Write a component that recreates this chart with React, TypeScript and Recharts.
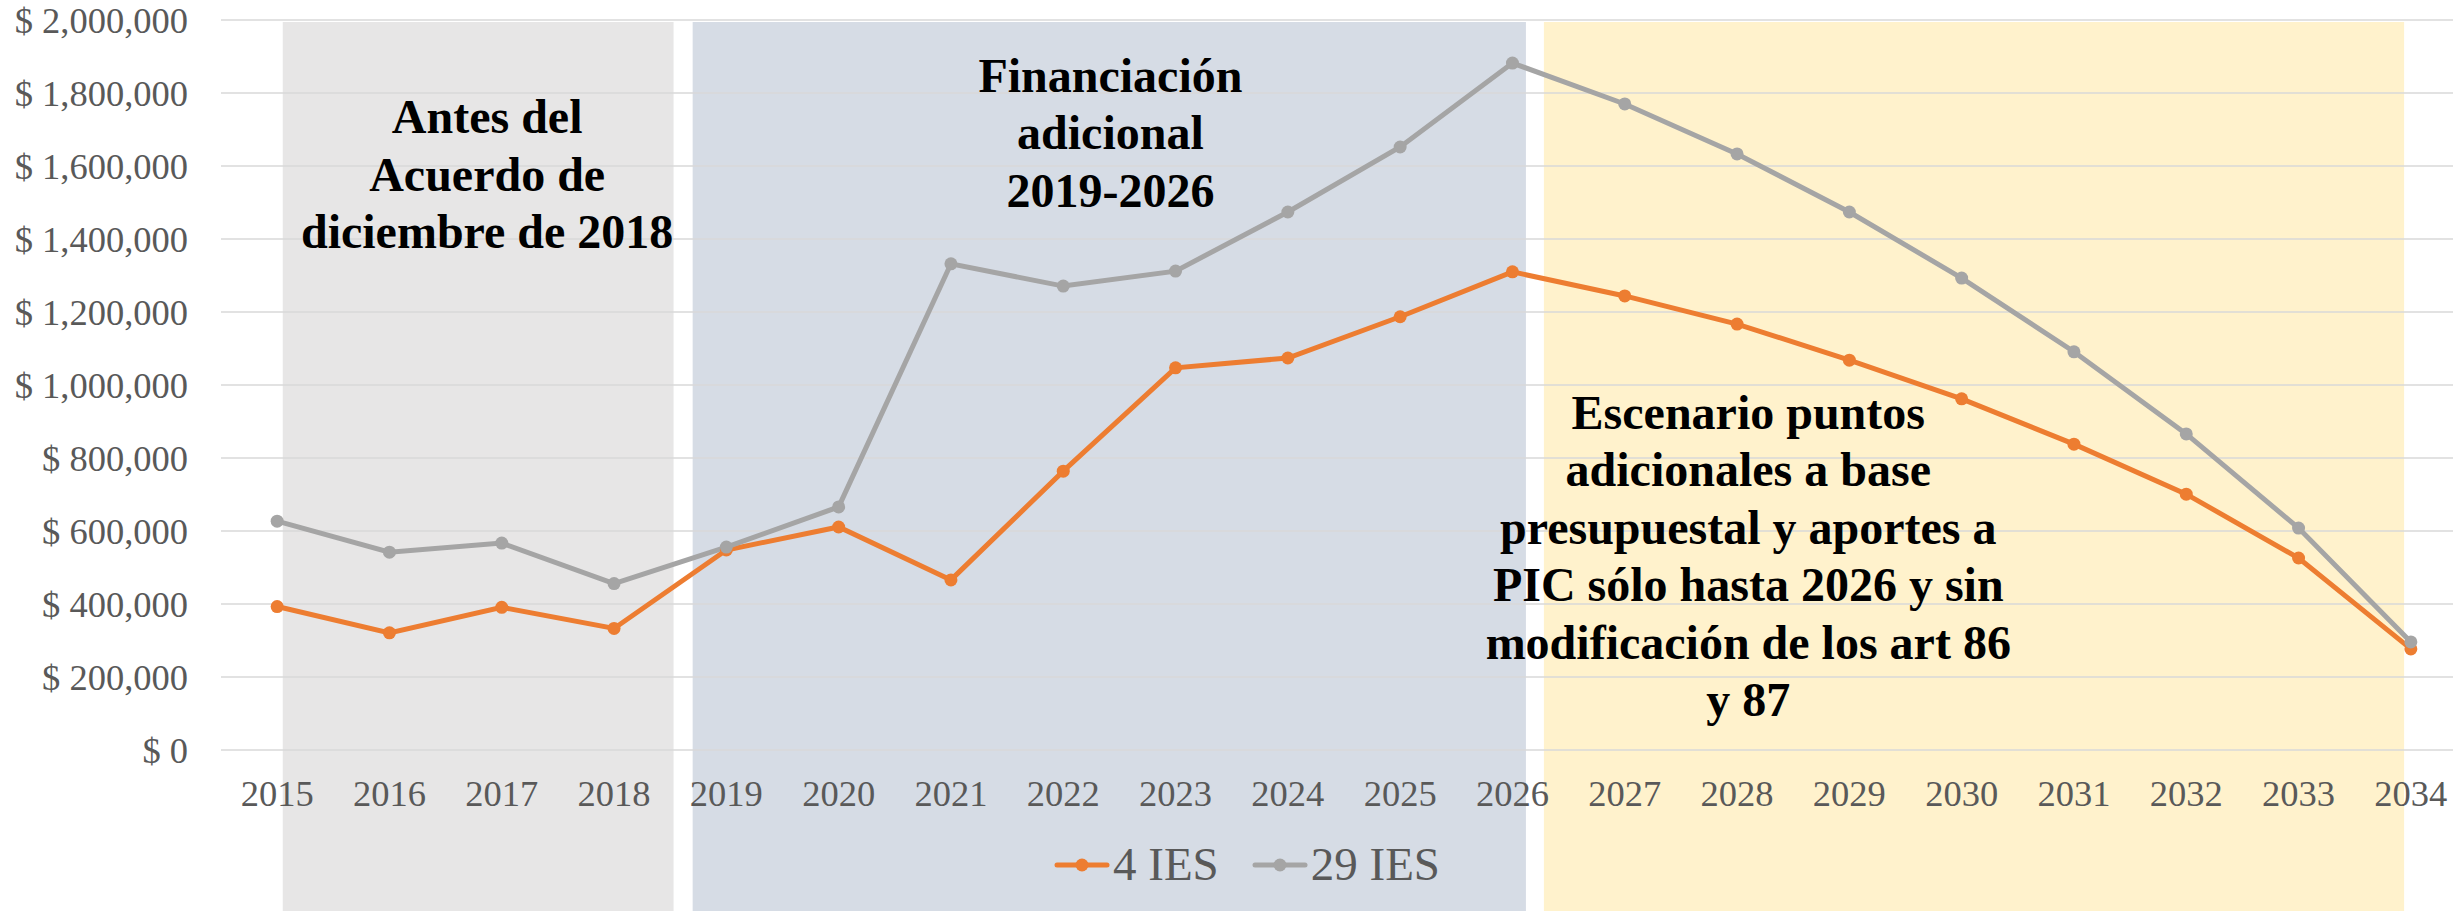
import React from 'react';
import { LineChart, Line, XAxis, YAxis, CartesianGrid, ReferenceArea, ReferenceDot, Legend } from 'recharts';

const years = [2015, 2016, 2017, 2018, 2019, 2020, 2021, 2022, 2023, 2024, 2025, 2026, 2027, 2028, 2029, 2030, 2031, 2032, 2033, 2034];
const ies4 = [393000, 321000, 391000, 333000, 548000, 611000, 466000, 764000, 1047000, 1074000, 1187000, 1310000, 1244000, 1167000, 1068000, 962000, 838000, 701000, 526000, 277000];
const ies29 = [627000, 542000, 567000, 456000, 556000, 666000, 1332000, 1271000, 1312000, 1474000, 1652000, 1882000, 1770000, 1633000, 1474000, 1293000, 1091000, 866000, 608000, 296000];
const seriesNames = ['4 IES', '29 IES'];
const seriesColors = ['#ED7D31', '#A5A5A5'];
const yTicks = [0, 200000, 400000, 600000, 800000, 1000000, 1200000, 1400000, 1600000, 1800000, 2000000];

// shaded periods (in axis units)
const bandStart = [2015.05, 2018.7, 2026.28];
const bandEnd = [2018.53, 2026.12, 2033.94];
const bandColors = ['#E7E6E6', '#D6DCE5', '#FFF2CC'];
const bandTop = 1994500;
const bandBottom = -700000;

// annotation texts
const annoX = [2016.87, 2022.42, 2028.1];
const annoY = [1735000, 1848000, 926000];
const annoLines = [
  ['Antes del', 'Acuerdo de', 'diciembre de 2018'],
  ['Financiación', 'adicional', '2019-2026'],
  ['Escenario puntos', 'adicionales a base', 'presupuestal y aportes a', 'PIC sólo hasta 2026 y sin', 'modificación de los art 86', 'y 87'],
];

const data = years.map((y, i) => ({ year: y, a: ies4[i], b: ies29[i] }));

const FONT = '"Liberation Serif", "Times New Roman", serif';
const LINE_GAP = 57.5;

const fmtMoney = (v: number) => '$ ' + v.toLocaleString('en-US');

const makeShape = (lines: string[]) => (props: any) => (
  <g>
    {lines.map((l, i) => (
      <text
        key={i}
        x={props.cx}
        y={props.cy + i * LINE_GAP}
        textAnchor="middle"
        dominantBaseline="central"
        fontFamily={FONT}
        fontWeight="bold"
        fontSize={48}
        fill="#000000"
      >
        {l}
      </text>
    ))}
  </g>
);

const renderLegend = () => (
  <div style={{ display: 'flex', justifyContent: 'center', alignItems: 'center', gap: 33, fontFamily: FONT, fontSize: 47, color: '#595959', paddingLeft: 27 }}>
    {seriesNames.map((n, i) => (
      <div key={n} style={{ display: 'flex', alignItems: 'center' }}>
        <svg width={56} height={20}>
          <line x1={3} y1={10} x2={53} y2={10} stroke={seriesColors[i]} strokeWidth={5} strokeLinecap="round" />
          <circle cx={28} cy={10} r={6.5} fill={seriesColors[i]} />
        </svg>
        <span style={{ marginLeft: 3, lineHeight: 1 }}>{n}</span>
      </div>
    ))}
  </div>
);

export default function App() {
  return (
    <div style={{ position: 'fixed', left: 0, top: 0, width: 2453, height: 911, overflow: 'hidden', background: '#fff' }}>
      <LineChart width={2467} height={940} data={data} margin={{ top: 20, right: 0, bottom: 0, left: 0 }} style={{ overflow: 'visible' }}>
        {bandColors.map((c, i) => (
          <ReferenceArea
            key={'band' + i}
            x1={bandStart[i]}
            x2={bandEnd[i]}
            y1={bandBottom}
            y2={bandTop}
            fill={c}
            fillOpacity={1}
            stroke="none"
            ifOverflow="visible"
            {...({ zIndex: -200 } as any)}
          />
        ))}
        <CartesianGrid vertical={false} stroke="#D9D9D9" strokeWidth={1.5} />
        <XAxis
          dataKey="year"
          type="number"
          domain={[2014.5, 2034.5]}
          ticks={years}
          interval={0}
          allowDataOverflow
          axisLine={false}
          tickLine={false}
          tickMargin={24}
          height={190}
          tick={{ fill: '#595959', fontSize: 36.5, fontFamily: FONT }}
        />
        <YAxis
          domain={[0, 2000000]}
          ticks={yTicks}
          interval={0}
          width={221}
          axisLine={false}
          tickLine={false}
          tickMargin={27}
          tickFormatter={fmtMoney}
          tick={{ fill: '#595959', fontSize: 36.5, fontFamily: FONT }}
        />
        <Line dataKey="a" name={seriesNames[0]} stroke={seriesColors[0]} strokeWidth={5} dot={{ r: 6.5, fill: seriesColors[0], stroke: seriesColors[0], strokeWidth: 0 }} activeDot={false} isAnimationActive={false} />
        <Line dataKey="b" name={seriesNames[1]} stroke={seriesColors[1]} strokeWidth={5} dot={{ r: 6.5, fill: seriesColors[1], stroke: seriesColors[1], strokeWidth: 0 }} activeDot={false} isAnimationActive={false} />
        {annoLines.map((lines, i) => (
          <ReferenceDot key={'anno' + i} x={annoX[i]} y={annoY[i]} r={0} ifOverflow="visible" shape={makeShape(lines)} />
        ))}
        <Legend verticalAlign="middle" align="center" content={renderLegend} wrapperStyle={{ top: 841, left: 0, width: 2467 }} />
      </LineChart>
    </div>
  );
}
